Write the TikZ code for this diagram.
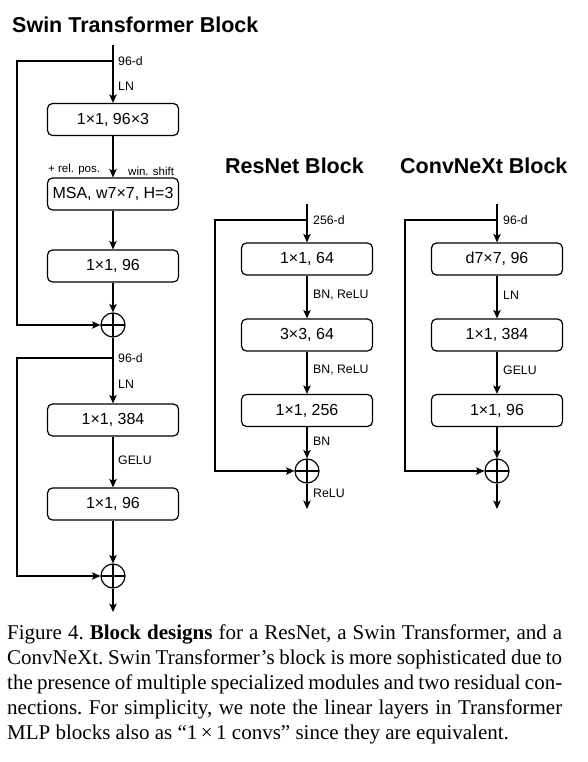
\documentclass[tikz,border=0pt]{standalone}
\usepackage{fontspec}
\setmainfont{Liberation Serif}
\setsansfont{Liberation Sans}
\usetikzlibrary{arrows.meta}
\begin{document}
\begin{tikzpicture}[x=1pt,y=-1pt,
  blk/.style={draw, rounded corners=5pt, line width=1.2pt, minimum width=131pt, minimum height=32pt, inner sep=0pt, font=\sffamily\fontsize{16}{16}\selectfont},
  lbl/.style={font=\sffamily\fontsize{12.3}{12.3}\selectfont, anchor=west, inner sep=0pt},
  ttl/.style={font=\sffamily\bfseries\fontsize{21.5}{21.5}\selectfont, anchor=base west, inner sep=0pt},
  plus/.style={draw, circle, minimum size=24pt, inner sep=0pt, line width=1.2pt,
    path picture={\draw[line width=1.2pt] (path picture bounding box.north) -- (path picture bounding box.south) (path picture bounding box.west) -- (path picture bounding box.east);}},
  arr/.style={-{Stealth[length=8.5pt,width=7.5pt,inset=2pt]}, line width=1.2pt}]
\useasboundingbox (0,0) rectangle (587,762);
% ---------- Swin ----------
\node[ttl] (t1) at (12,33) {Swin Transformer Block};
\coordinate (s0) at (113,45);
\coordinate (s0s) at (113,61);
\coordinate (sl1) at (17,61);
\node[blk] (s1) at (113,119.5) {1×1, 96×3};
\node[blk] (s2) at (113,194) {MSA, w7×7, H=3};
\node[blk] (s3) at (113,266) {1×1, 96};
\node[plus] (p1) at (113,325) {};
\coordinate (s4s) at (113,358);
\coordinate (sl2) at (17,358);
\node[blk] (s4) at (113,420) {1×1, 384};
\node[blk] (s5) at (113,504) {1×1, 96};
\node[plus] (p2) at (113,576) {};
\coordinate (s6) at (113,612);
\draw[arr] (s0) -- (s1);
\draw[arr] (s1) -- (s2);
\draw[arr] (s2) -- (s3);
\draw[arr] (s3) -- (p1);
\draw[arr] (s0s) -- (sl1) |- (p1);
\draw[arr] (p1) -- (s4);
\draw[arr] (s4) -- (s5);
\draw[arr] (s5) -- (p2);
\draw[arr] (s4s) -- (sl2) |- (p2);
\draw[arr] (p2) -- (s6);
\node[lbl] (sa) at (118,61) {96-d};
\node[lbl] (sb) at (118,86) {LN};
\node[lbl, font=\sffamily\fontsize{11.5}{11.5}\selectfont] (sc) at (48,170) {+ rel. pos.};
\node[lbl, font=\sffamily\fontsize{11.5}{11.5}\selectfont] (sd) at (128,171) {win. shift};
\node[lbl] (se) at (118,358) {96-d};
\node[lbl] (sf) at (118,384) {LN};
\node[lbl] (sg) at (118,460) {GELU};
% ---------- ResNet ----------
\node[ttl] (t2) at (225,173) {ResNet Block};
\coordinate (r0) at (307,204);
\coordinate (r0s) at (307,220);
\coordinate (rl) at (215,220);
\node[blk] (r1) at (307,259) {1×1, 64};
\node[blk] (r2) at (307,335) {3×3, 64};
\node[blk] (r3) at (307,410.5) {1×1, 256};
\node[plus] (rp) at (307,471) {};
\coordinate (r4) at (307,509);
\draw[arr] (r0) -- (r1);
\draw[arr] (r1) -- (r2);
\draw[arr] (r2) -- (r3);
\draw[arr] (r3) -- (rp);
\draw[arr] (r0s) -- (rl) |- (rp);
\draw[arr] (rp) -- (r4);
\node[lbl] (ra) at (313,220) {256-d};
\node[lbl] (rb) at (313,295) {BN, ReLU};
\node[lbl] (rc) at (313,370) {BN, ReLU};
\node[lbl] (rd) at (313,441) {BN};
\node[lbl] (re) at (313,493) {ReLU};
% ---------- ConvNeXt ----------
\node[ttl] (t3) at (400,173) {ConvNeXt Block};
\coordinate (c0) at (497,204);
\coordinate (c0s) at (497,220);
\coordinate (cl) at (405,220);
\node[blk] (c1) at (497,259) {d7×7, 96};
\node[blk] (c2) at (497,335) {1×1, 384};
\node[blk] (c3) at (497,410.5) {1×1, 96};
\node[plus] (cp) at (497,471) {};
\coordinate (c4) at (497,509);
\draw[arr] (c0) -- (c1);
\draw[arr] (c1) -- (c2);
\draw[arr] (c2) -- (c3);
\draw[arr] (c3) -- (cp);
\draw[arr] (c0s) -- (cl) |- (cp);
\draw[arr] (cp) -- (c4);
\node[lbl] (ca) at (503,220) {96-d};
\node[lbl] (cb) at (503,295) {LN};
\node[lbl] (cc) at (503,370) {GELU};
% ---------- caption ----------
\node[anchor=north west, inner sep=0pt, text width=555pt, align=justify,
  font=\fontsize{21}{25}\selectfont\frenchspacing] (cap) at (7,625)
 {Figure 4. \textbf{Block designs} for a ResNet, a Swin Transformer, and a\linebreak
 ConvNeXt. Swin Transformer’s block is more sophisticated due to\linebreak
 the presence of multiple specialized modules and two residual con-\linebreak
 nections. For simplicity, we note the linear layers in Transformer\linebreak
 MLP blocks also as “1\,×\,1 convs” since they are equivalent.};
\end{tikzpicture}
\end{document}
